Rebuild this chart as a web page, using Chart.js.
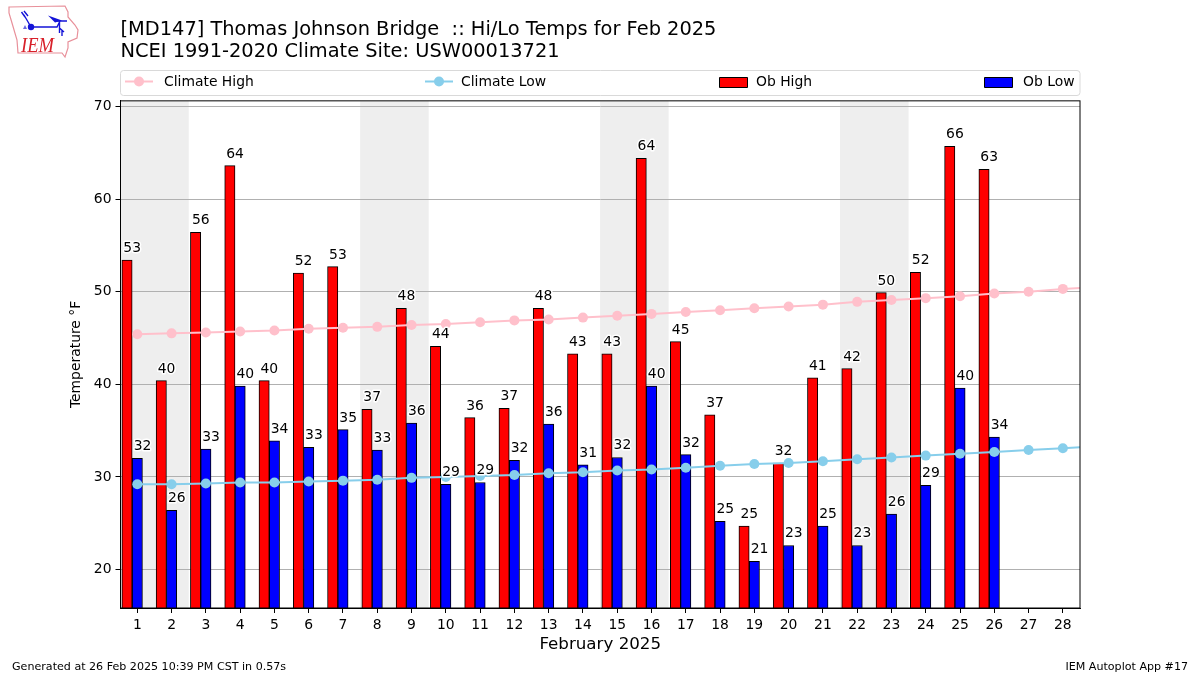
<!DOCTYPE html>
<html>
<head>
<meta charset="utf-8">
<title>Thomas Johnson Bridge Hi/Lo Temps</title>
<script src="https://cdn.jsdelivr.net/npm/chart.js@4"></script>
<style>
  body { margin: 0; background: #fff; overflow: hidden; }
  #wrap { position: relative; width: 1200px; height: 675px; }
  #logo { position: absolute; left: 0; top: 0; }
</style>
</head>
<body>
<div id="wrap">
  <canvas id="canvas" width="1200" height="675"></canvas>
  <svg id="logo" width="90" height="65">
    <path d="M9 7 L65 6 L68 12 L68 17 L75 25 L78 30 L77 38 L68 42 L68 48 L65 57 L62 53 L18 53 L17 40 L12 23 L9 13 Z" fill="none" stroke="#e8909a" stroke-width="1.2"/>
    <path d="M31 27 L57 27 L60 21 M57 21 L67 21 M59.5 21 L59.5 33 M59.5 28 L64 32 M62 30 L62 36 M31 27 L24 15 M21.5 12 L25 17 M24 11 L28 16" fill="none" stroke="#1414d8" stroke-width="1.4"/>
    <circle cx="31" cy="27" r="3.2" fill="#1414d8"/>
    <path d="M48 15.5 L62 20.5 L55 22.5 Z" fill="#1414d8"/>
    <path d="M25 25 L27 29 L23 29 Z" fill="#6a6ae0"/>
    <text x="21" y="51.5" font-family="Liberation Serif" font-style="italic" font-size="22" fill="#d8202a" textLength="33" lengthAdjust="spacingAndGlyphs">IEM</text>
  </svg>
</div>
<script>
const days = [1,2,3,4,5,6,7,8,9,10,11,12,13,14,15,16,17,18,19,20,21,22,23,24,25,26];
const climateDays = [1,2,3,4,5,6,7,8,9,10,11,12,13,14,15,16,17,18,19,20,21,22,23,24,25,26,27,28,29];
const obHigh = [53.4,40.4,56.4,63.6,40.4,52.0,52.7,37.3,48.2,44.1,36.4,37.4,48.2,43.3,43.3,64.4,44.6,36.7,24.7,31.5,40.7,41.7,49.9,52.1,65.7,63.2];
const obLow = [32.0,26.4,33.0,39.8,33.9,33.2,35.1,32.9,35.8,29.2,29.4,31.8,35.7,31.3,32.1,39.8,32.4,25.2,20.9,22.6,24.7,22.6,26.0,29.1,39.6,34.3];
const climateHigh = [45.4,45.5,45.6,45.7,45.8,46.0,46.1,46.2,46.4,46.5,46.7,46.9,47.0,47.2,47.4,47.6,47.8,48.0,48.2,48.4,48.6,48.9,49.1,49.3,49.5,49.8,50.0,50.3,50.5];
const climateLow = [29.2,29.2,29.3,29.4,29.4,29.5,29.6,29.7,29.9,30.0,30.1,30.2,30.4,30.5,30.7,30.8,31.0,31.2,31.4,31.5,31.7,31.9,32.1,32.3,32.5,32.7,32.9,33.1,33.3];
const weekends = [[0.5,2.5],[7.5,9.5],[14.5,16.5],[21.5,23.5]];
const titleLines = ['[MD147] Thomas Johnson Bridge  :: Hi/Lo Temps for Feb 2025','NCEI 1991-2020 Climate Site: USW00013721'];

const FONT = '"DejaVu Sans"';

// weekend shading goes in under the grid
const shadePlugin = {
    id: 'shade',
    beforeDraw(chart){
        const {ctx, chartArea, scales} = chart;
        ctx.save();
        ctx.fillStyle = '#eeeeee';
        weekends.forEach(w => {
            const x0 = Math.max(scales.x.getPixelForValue(w[0]), chartArea.left);
            const x1 = scales.x.getPixelForValue(w[1]);
            ctx.fillRect(x0, chartArea.top, x1 - x0, chartArea.bottom - chartArea.top);
        });
        ctx.restore();
    }
};

// value labels, legend box, frame and footers
const annotatePlugin = {
    id: 'annotate',
    afterDatasetsDraw(chart){
        const {ctx, chartArea, scales} = chart;
        ctx.save();
        ctx.strokeStyle = '#000';
        ctx.lineWidth = 1;
        ctx.strokeRect(chartArea.left, chartArea.top, chartArea.right - chartArea.left, chartArea.bottom - chartArea.top);

        ctx.font = '13.9px ' + FONT;
        ctx.textAlign = 'left';
        ctx.textBaseline = 'alphabetic';
        ctx.lineJoin = 'round';
        const label = (values, shift) => {
            values.forEach((v, i) => {
                const x = scales.x.getPixelForValue(days[i] + shift) + 1.5;
                const y = scales.y.getPixelForValue(v) - 8;
                const s = String(Math.round(v));
                ctx.strokeStyle = '#fff';
                ctx.lineWidth = 3;
                ctx.strokeText(s, x, y);
                ctx.fillStyle = '#000';
                ctx.fillText(s, x, y);
            });
        };
        label(obHigh, -0.45);
        label(obLow, -0.15);

        // legend, spread over the axes width
        ctx.beginPath();
        ctx.roundRect(120.5, 70.5, 959.5, 25, 3);
        ctx.fillStyle = '#fff';
        ctx.fill();
        ctx.strokeStyle = '#d9d9d9';
        ctx.lineWidth = 1;
        ctx.stroke();
        const items = [
            {ds: 0, hx: 124, tx: 164, kind: 'line'},
            {ds: 1, hx: 424, tx: 461, kind: 'line'},
            {ds: 2, hx: 719, tx: 756, kind: 'bar'},
            {ds: 3, hx: 984, tx: 1023, kind: 'bar'}
        ];
        items.forEach(it => {
            const d = chart.data.datasets[it.ds];
            if(it.kind === 'line'){
                ctx.strokeStyle = d.borderColor;
                ctx.lineWidth = 2;
                ctx.beginPath();
                ctx.moveTo(it.hx + 1, 81.5);
                ctx.lineTo(it.hx + 29, 81.5);
                ctx.stroke();
                ctx.fillStyle = d.borderColor;
                ctx.beginPath();
                ctx.arc(it.hx + 15, 81.5, 5, 0, Math.PI * 2);
                ctx.fill();
            } else {
                ctx.fillStyle = d.backgroundColor;
                ctx.strokeStyle = '#000';
                ctx.lineWidth = 1;
                ctx.fillRect(it.hx + 0.5, 77.5, 28, 10);
                ctx.strokeRect(it.hx + 0.5, 77.5, 28, 10);
            }
            ctx.fillStyle = '#000';
            ctx.font = '13.9px ' + FONT;
            ctx.textAlign = 'left';
            ctx.textBaseline = 'middle';
            ctx.fillText(d.label, it.tx, 82.5);
        });

        ctx.font = '11.1px ' + FONT;
        ctx.textBaseline = 'alphabetic';
        ctx.fillStyle = '#000';
        ctx.textAlign = 'left';
        ctx.fillText('Generated at 26 Feb 2025 10:39 PM CST in 0.57s', 12, 670);
        ctx.textAlign = 'right';
        ctx.fillText('IEM Autoplot App #17', 1188, 670);
        ctx.restore();
    }
};

const ctx = document.getElementById('canvas').getContext('2d');

const myChart = new Chart(ctx, {
    type: 'bar',
    data: {
        datasets: [{
            type: 'line',
            label: 'Climate High',
            data: climateDays.map((d, i) => ({x: d, y: climateHigh[i]})),
            borderColor: 'pink',
            backgroundColor: 'pink',
            borderWidth: 2,
            pointRadius: 5,
            pointBorderWidth: 0,
            tension: 0,
            order: 0
        },
        {
            type: 'line',
            label: 'Climate Low',
            data: climateDays.map((d, i) => ({x: d, y: climateLow[i]})),
            borderColor: 'skyblue',
            backgroundColor: 'skyblue',
            borderWidth: 2,
            pointRadius: 5,
            pointBorderWidth: 0,
            tension: 0,
            order: 0
        },
        {
            label: 'Ob High',
            data: days.map((d, i) => ({x: d - 0.3, y: obHigh[i]})),
            backgroundColor: 'red',
            borderColor: '#000',
            borderWidth: 1,
            borderSkipped: false,
            barThickness: 10.3,
            grouped: false,
            order: 1
        },
        {
            label: 'Ob Low',
            data: days.map((d, i) => ({x: d, y: obLow[i]})),
            backgroundColor: 'blue',
            borderColor: '#000',
            borderWidth: 1,
            borderSkipped: false,
            barThickness: 10.3,
            grouped: false,
            order: 1
        }]
    },
    options: {
        responsive: false,
        animation: false,
        devicePixelRatio: 1,
        layout: {padding: {left: 60.5, right: 120, top: 19, bottom: 0}},
        plugins: {
            legend: {display: false},
            tooltip: {enabled: false},
            title: {
                display: true,
                text: titleLines,
                align: 'start',
                fullSize: false,
                color: '#000',
                font: {family: FONT, size: 19.4, weight: 'normal', lineHeight: 1.13},
                padding: {top: 0, bottom: 38}
            }
        },
        scales: {
            x: {
                type: 'linear',
                min: 0.51,
                max: 28.5,
                offset: false,
                border: {color: '#000'},
                grid: {offset: false, drawOnChartArea: false, tickLength: 5, tickColor: '#000'},
                ticks: {stepSize: 1, includeBounds: false, autoSkip: false, maxRotation: 0, color: '#000', padding: 4, font: {family: FONT, size: 13.9}},
                title: {display: true, text: 'February 2025', color: '#000', font: {family: FONT, size: 16.7}, padding: {top: 4, bottom: 20}},
                afterFit(s){ s.height = 67; }
            },
            y: {
                min: 15.85,
                max: 70.6,
                border: {color: '#000'},
                grid: {color: '#b0b0b0', lineWidth: 1, tickLength: 5, tickColor: '#000'},
                ticks: {stepSize: 10, includeBounds: false, color: '#000', padding: 4, font: {family: FONT, size: 13.9}},
                title: {display: true, text: 'Temperature \u00b0F', color: '#000', font: {family: FONT, size: 13.9}, padding: {top: 8, bottom: 0}},
                afterFit(s){ s.width = 60; }
            }
        }
    },
    plugins: [shadePlugin, annotatePlugin]
});
</script>
</body>
</html>
